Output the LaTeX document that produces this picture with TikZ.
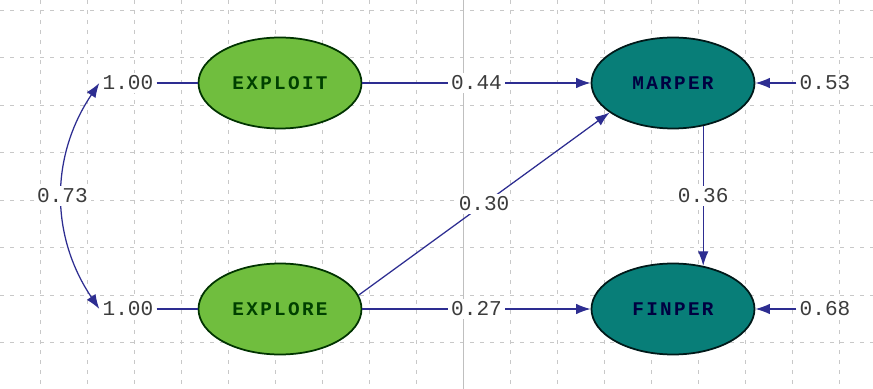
\documentclass[tikz,border=0pt]{standalone}
\usepackage{fontspec}
\newfontfamily\coeffont{Liberation Mono}
\newfontfamily\latentfont[LetterSpace=12]{Liberation Mono}
\usetikzlibrary{shapes.geometric,arrows.meta}

\definecolor{exogreen}{RGB}{112,190,62}
\definecolor{endoteal}{RGB}{8,126,120}
\definecolor{pathblue}{RGB}{45,45,145}
\definecolor{gridgray}{RGB}{200,200,200}
\definecolor{coefgray}{RGB}{60,60,60}

\tikzset{
  exo/.style={ellipse,draw=black!80!green,line width=0.35mm,fill=exogreen,
    minimum width=32.6mm,minimum height=18.2mm,inner sep=0pt,
    font=\latentfont\bfseries\fontsize{11}{13}\selectfont,text=green!25!black},
  endo/.style={ellipse,draw=black!80!teal,line width=0.35mm,fill=endoteal,
    minimum width=32.6mm,minimum height=18.2mm,inner sep=0pt,
    font=\latentfont\bfseries\fontsize{11}{13}\selectfont,text=black!75!blue},
  coef/.style={font=\coeffont\fontsize{12}{14}\selectfont,text=coefgray,
    fill=white,inner sep=0.6mm},
  tip/.tip={Latex[length=2.9mm,width=2.1mm]},
  path/.style={draw=pathblue,line width=0.25mm,-tip},
  gridline/.style={gridgray,line width=0.15mm,dash pattern=on 0.8mm off 1.2mm}
}

\begin{document}
\begin{tikzpicture}[x=0.2mm,y=-0.2mm]
    \useasboundingbox[fill=white] (0,0) rectangle (873,389);

    % Grille
    \foreach \gx in {40,87,...,840} {
        \draw[gridline] (\gx,0) -- (\gx,389);
    }
    \foreach \gy in {10,57.5,...,391} {
        \draw[gridline] (0,\gy) -- (873,\gy);
    }
    \draw[gray!50,line width=0.2mm] (463,0) -- (463,389);

    % Variables latentes
    \node[exo] (EXPLOIT) at (280,83) {EXPLOIT};
    \node[exo] (EXPLORE) at (280,309) {EXPLORE};
    \node[endo] (MARPER) at (673,83) {MARPER};
    \node[endo] (FINPER) at (673,309) {FINPER};

    % Variances
    \node[coef] (varA) at (128,83) {1.00};
    \node[coef] (varB) at (128,309) {1.00};
    \draw[pathblue,line width=0.25mm] (varA) -- (EXPLOIT);
    \draw[pathblue,line width=0.25mm] (varB) -- (EXPLORE);

    % Covariance
    \draw[path,tip-tip]
        (varA.west) to[bend right=34] node[coef,pos=0.5] (cov) {0.73} (varB.west);

    % Coefficients
    \draw[path] (EXPLOIT) -- node[coef] (bA) {0.44} (MARPER);
    \draw[path] (EXPLORE.10) -- node[coef] (bB) {0.30} (MARPER.205);
    \draw[path] (EXPLORE) -- node[coef] (bC) {0.27} (FINPER);
    \draw[path] (MARPER.-55) -- node[coef] (bD) {0.36} (FINPER.55);

    % Erreurs
    \node[coef,fill=none] (errA) at (825,83) {0.53};
    \node[coef,fill=none] (errB) at (825,309) {0.68};
    \draw[path] (errA) -- (MARPER);
    \draw[path] (errB) -- (FINPER);
\end{tikzpicture}
\end{document}
